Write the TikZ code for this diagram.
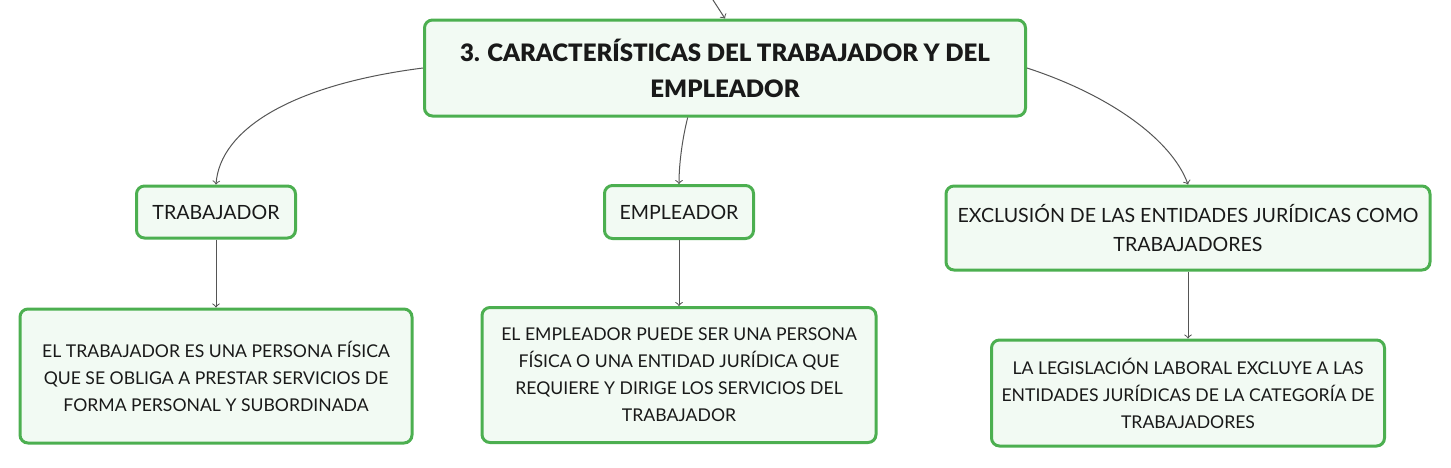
\documentclass[tikz,border=0pt]{standalone}
\usepackage{fontspec}
\setmainfont{Lato}
\newfontfamily\negra{Lato Black}
\definecolor{borde}{RGB}{76,175,80}
\definecolor{relleno}{RGB}{242,250,243}
\definecolor{linea}{RGB}{85,85,85}
\tikzset{
  caja/.style={draw=borde, fill=relleno, line width=1.5pt, rounded corners=4pt,
    align=center, inner sep=0pt, text=black!90,
    font=\fontsize{8.8}{13.5}\selectfont},
  rama/.style={caja, font=\fontsize{9.8}{14.5}\selectfont},
  titulo/.style={caja, font=\fontsize{12}{18}\negra},
  enlace/.style={draw=linea, line width=0.5pt, ->}
}
\begin{document}
\begin{tikzpicture}[x=0.5pt, y=-0.5pt]
    \useasboundingbox (0,0) rectangle (1451,467);
    % Drawing the main topic
    \node [titulo, minimum width=300.5pt, minimum height=48pt] (tema) at (725,68)
      {3. CARACTERÍSTICAS DEL TRABAJADOR Y DEL\\EMPLEADOR};
    \coordinate (arriba) at (713,0);
    % Drawing the three subtopics
    \node [rama, minimum width=79.5pt, minimum height=26pt] (trab) at (216,212) {TRABAJADOR};
    \node [rama, minimum width=74.5pt, minimum height=26.5pt] (emp) at (679,212) {EMPLEADOR};
    \node [rama, minimum width=242pt, minimum height=42pt] (excl) at (1188,228)
      {EXCLUSIÓN DE LAS ENTIDADES JURÍDICAS COMO\\TRABAJADORES};
    % Drawing the details
    \node [caja, minimum width=196pt, minimum height=67pt] (deftrab) at (216,376)
      {EL TRABAJADOR ES UNA PERSONA FÍSICA\\QUE SE OBLIGA A PRESTAR SERVICIOS DE\\FORMA PERSONAL Y SUBORDINADA};
    \node [caja, minimum width=197pt, minimum height=67.5pt] (defemp) at (679,375)
      {EL EMPLEADOR PUEDE SER UNA PERSONA\\FÍSICA O UNA ENTIDAD JURÍDICA QUE\\REQUIERE Y DIRIGE LOS SERVICIOS DEL\\TRABAJADOR};
    \node [caja, minimum width=196.5pt, minimum height=53pt] (defexcl) at (1188,393)
      {LA LEGISLACIÓN LABORAL EXCLUYE A LAS\\ENTIDADES JURÍDICAS DE LA CATEGORÍA DE\\TRABAJADORES};
    % Drawing the connectors
    \draw [enlace] (arriba) -- (tema.north);
    \draw [enlace] (tema.west) .. controls (290,85) and (220,130) .. (trab.north);
    \draw [enlace] (tema.233) .. controls (682,140) and (679,165) .. (emp.north);
    \draw [enlace] (tema.east) .. controls (1110,95) and (1172,140) .. (excl.north);
    \draw [enlace] (trab) -- (deftrab);
    \draw [enlace] (emp) -- (defemp);
    \draw [enlace] (excl) -- (defexcl);
\end{tikzpicture}
\end{document}
